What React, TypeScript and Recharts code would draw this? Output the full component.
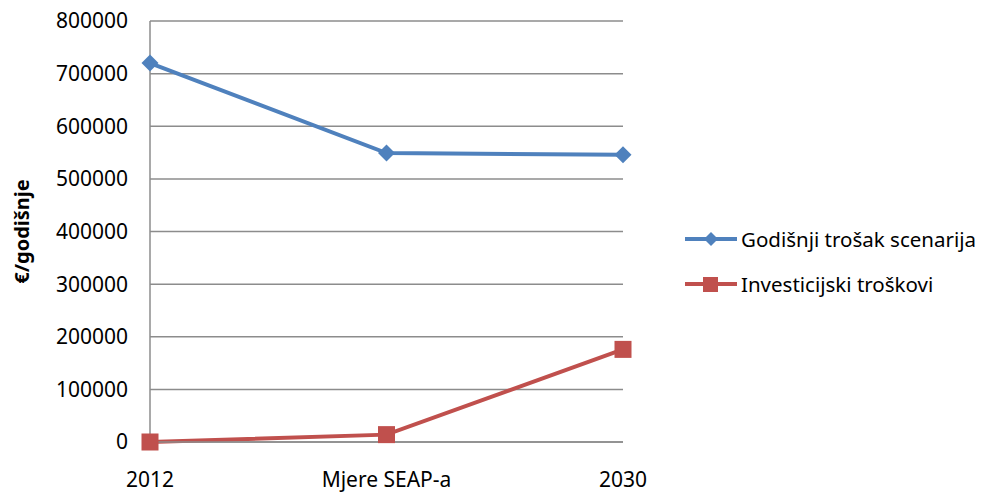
import React from 'react';
import { LineChart, Line, XAxis, YAxis, CartesianGrid, Label } from 'recharts';

const categories = ['2012', 'Mjere SEAP-a', '2030'];
const godisnjiTrosak = [720000, 549000, 546000];
const investicijskiTroskovi = [0, 14000, 176000];
const yTicks = [0, 100000, 200000, 300000, 400000, 500000, 600000, 700000, 800000];

const BLUE = '#4F81BD';
const RED = '#C0504D';
const FONT = '"Noto Sans", sans-serif';

const data = categories.map((name, i) => ({
  name,
  godisnji: godisnjiTrosak[i],
  invest: investicijskiTroskovi[i],
}));

const legendItems = [
  { label: 'Godišnji trošak scenarija', color: BLUE, shape: 'diamond' },
  { label: 'Investicijski troškovi', color: RED, shape: 'square' },
];

const Diamond = (props: any) => {
  const { cx, cy, key } = props;
  const r = 8.5;
  return (
    <path
      key={key}
      d={`M${cx},${cy - r}L${cx + r},${cy}L${cx},${cy + r}L${cx - r},${cy}Z`}
      fill={BLUE}
    />
  );
};

const Square = (props: any) => {
  const { cx, cy, key } = props;
  const s = 17;
  return <rect key={key} x={cx - s / 2} y={cy - s / 2} width={s} height={s} fill={RED} />;
};

const ChartLegend = () => (
  <div style={{ position: 'absolute', left: 683, top: 216, fontFamily: FONT, fontSize: 20.5, color: '#000' }}>
    {legendItems.map((item) => (
      <div key={item.label} style={{ display: 'flex', alignItems: 'center', height: 45, whiteSpace: 'nowrap' }}>
        <svg width={56} height={20} style={{ marginRight: 2 }}>
          <line x1={2} y1={10} x2={54} y2={10} stroke={item.color} strokeWidth={4} />
          {item.shape === 'diamond' ? (
            <path d="M28,3L35,10L28,17L21,10Z" fill={item.color} />
          ) : (
            <rect x={20} y={3} width={15} height={15} fill={item.color} />
          )}
        </svg>
        <span>{item.label}</span>
      </div>
    ))}
  </div>
);

export default function App() {
  return (
    <div style={{ position: 'absolute', left: 0, top: 0, width: 989, height: 495, background: '#fff' }}>
      <LineChart width={989} height={495} data={data} margin={{ top: 21, right: 366, bottom: 3, left: 0 }}>
        <CartesianGrid vertical={false} stroke="#8c8c8c" strokeWidth={1.5} />
        <XAxis
          dataKey="name"
          axisLine={{ stroke: '#8c8c8c', strokeWidth: 1.5 }}
          tickLine={false}
          tickSize={0}
          tickMargin={30}
          height={50}
          interval={0}
          tick={{ fill: '#000', fontSize: 21, fontFamily: FONT }}
        />
        <YAxis
          domain={[0, 800000]}
          ticks={yTicks}
          width={150}
          axisLine={{ stroke: '#8c8c8c', strokeWidth: 1.5 }}
          tickLine={false}
          tickSize={0}
          tickMargin={22}
          tick={{ fill: '#000', fontSize: 21, fontFamily: FONT }}
        >
          <Label
            value="€/godišnje"
            angle={-90}
            position="insideLeft"
            offset={22}
            style={{ fontFamily: FONT, fontSize: 20, fontWeight: 'bold', fill: '#000', textAnchor: 'middle' }}
          />
        </YAxis>
        <Line
          dataKey="godisnji"
          name="Godišnji trošak scenarija"
          stroke={BLUE}
          strokeWidth={4}
          dot={Diamond}
          activeDot={false}
          isAnimationActive={false}
        />
        <Line
          dataKey="invest"
          name="Investicijski troškovi"
          stroke={RED}
          strokeWidth={4}
          dot={Square}
          activeDot={false}
          isAnimationActive={false}
        />
      </LineChart>
      <ChartLegend />
    </div>
  );
}
